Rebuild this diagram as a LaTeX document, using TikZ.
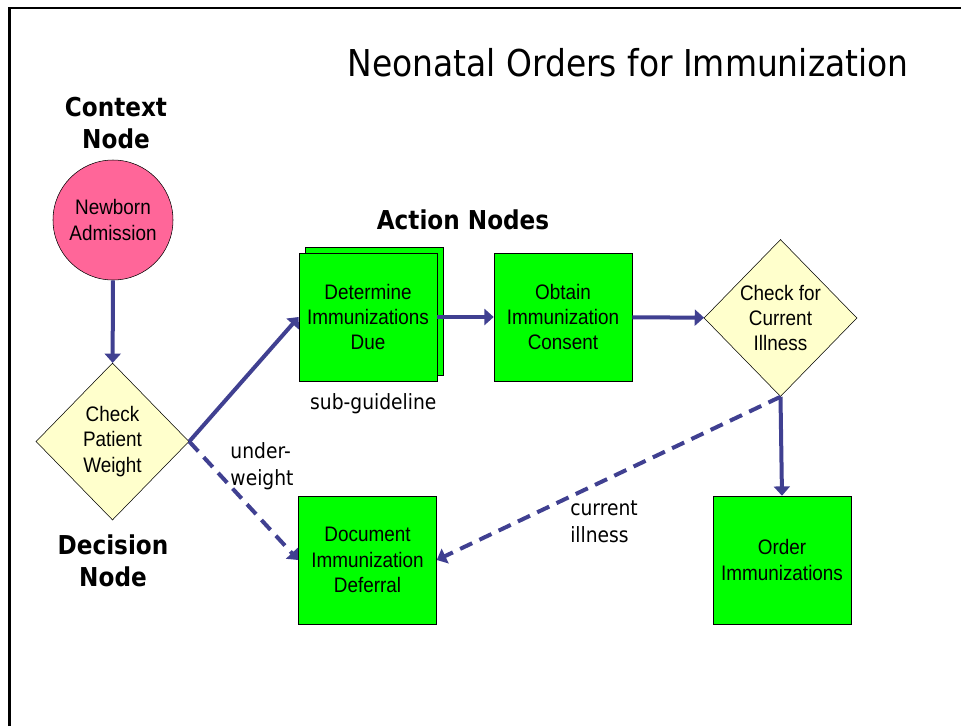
\documentclass[tikz,border=0pt]{standalone}
\usepackage{fontspec}
\setmainfont{DejaVu Sans}[FakeStretch=0.89]
\newfontfamily\narrowfont{Liberation Sans}[FakeStretch=0.9]
\definecolor{FlowBlue}{RGB}{64,64,145}
\definecolor{ActGreen}{RGB}{0,255,0}
\definecolor{DecYellow}{RGB}{255,255,204}
\definecolor{CtxPink}{RGB}{255,102,153}
\usetikzlibrary{
    shapes.geometric,
    arrows.meta,
    positioning,
}

\begin{document}
\begin{tikzpicture}[x=0.75pt, y=-0.75pt,
        actbox/.style={rectangle, draw=black, thin, fill=ActGreen, minimum width=103.5pt, minimum height=96pt, align=center, font=\narrowfont\fontsize{15.75pt}{19.1pt}\selectfont},
        decbox/.style={diamond, draw=black, thin, fill=DecYellow, minimum width=114.75pt, minimum height=117.75pt, inner sep=0pt, align=center, font=\narrowfont\fontsize{15.75pt}{19.1pt}\selectfont},
        ctxnode/.style={circle, draw=black, thin, fill=CtxPink, minimum size=90pt, inner sep=0pt, align=center, font=\narrowfont\fontsize{15.75pt}{19.1pt}\selectfont},
        heading/.style={align=center, font=\fontsize{19.5pt}{24pt}\selectfont\bfseries},
        note/.style={align=left, inner sep=0pt, font=\fontsize{15.75pt}{20pt}\selectfont},
        flow/.style={draw=FlowBlue, line width=3pt, -{Triangle[length=7pt, width=12pt]}},
        alt/.style={flow, dash pattern=on 10pt off 6pt},
    ]
    \useasboundingbox (0,0) rectangle (961,726);
    % frame
    \draw[line width=2.2pt] (9.5,726) -- (9.5,8) -- (961,8);

    \node[font=\fontsize{27.75pt}{33pt}\selectfont] (title) at (628,63) {Neonatal Orders for Immunization};

    % labels
    \node[heading] (ctxlab) at (116,123) {Context\\Node};
    \node[heading] (declab) at (113,561) {Decision\\Node};
    \node[heading] (actlab) at (463,220) {Action Nodes};

    % nodes
    \node[ctxnode] (newborn) at (113,220) {Newborn\\Admission};
    \node[decbox] (weight) at (112.5,441.5) {Check\\Patient\\Weight};
    \node[actbox] (detback) at (374,311) {};
    \node[actbox] (determine) at (368,317) {Determine\\Immunizations\\Due};
    \node[actbox] (consent) at (563,317) {Obtain\\Immunization\\Consent};
    \node[decbox] (illness) at (780.5,318) {Check for\\Current\\Illness};
    \node[actbox] (deferral) at (367.5,560) {Document\\Immunization\\Deferral};
    \node[actbox] (order) at (782,560) {Order\\Immunizations};

    \node[note, below=9pt of determine, xshift=4pt] (subg) {sub-guideline};
    \node[note] (under) at (262,466) {under-\\weight};
    \node[note] (curill) at (604,522) {current\\illness};

    % connectors
    \draw[flow] (newborn) -- (weight);
    \draw[flow] (weight.east) -- (determine.west);
    \draw[alt] (weight.east) -- (deferral.west);
    \draw[flow] (determine) -- (consent);
    \draw[flow] (consent) -- (illness);
    \draw[flow] (illness.south) -- (order.north);
    \draw[alt] (illness.south) -- (deferral.east);
\end{tikzpicture}
\end{document}
